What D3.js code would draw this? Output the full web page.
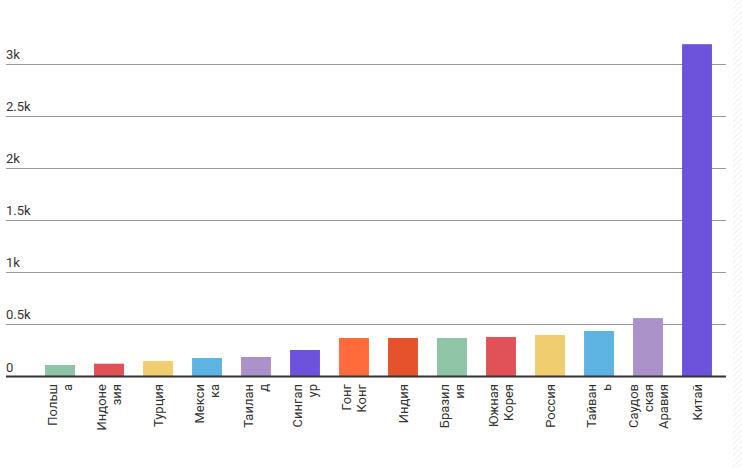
<!DOCTYPE html>
<html>
<head>
<meta charset="utf-8">
<script src="https://cdn.jsdelivr.net/npm/d3@7"></script>
<style>
  body { margin: 0; background: #fff; }
  svg { font-family: Roboto, "Noto Sans", sans-serif; }
</style>
</head>
<body>
<div id="chart"></div>
<script>
const categories = ["Польша", "Индонезия", "Турция", "Мексика", "Таиланд", "Сингапур", "Гонг Конг",
  "Индия", "Бразилия", "Южная Корея", "Россия", "Тайвань", "Саудовская Аравия", "Китай"];
const values = [110, 123, 148, 177, 187, 254, 369, 369, 369, 378, 398, 436, 560, 3185];
const colors = ["#8fc4a6", "#e05257", "#f0cd6e", "#5db4e3", "#aa92c8", "#6d52db", "#ff6b3a",
  "#e6522b", "#8fc4a6", "#e05257", "#f0cd6e", "#5db4e3", "#aa92c8", "#6d52db"];
// labels as wrapped in the original
const tickLines = [["Польш", "а"], ["Индоне", "зия"], ["Турция"], ["Мекси", "ка"], ["Таилан", "д"],
  ["Сингап", "ур"], ["Гонг", "Конг"], ["Индия"], ["Бразил", "ия"], ["Южная", "Корея"], ["Россия"],
  ["Тайван", "ь"], ["Саудов", "ская", "Аравия"], ["Китай"]];
const yTicks = [0, 500, 1000, 1500, 2000, 2500, 3000];
const yTickLabels = ["0", "0.5k", "1k", "1.5k", "2k", "2.5k", "3k"];

const width = 742, height = 468;
const left = 6, right = 726;

const svg = d3.select("#chart").append("svg")
  .attr("width", width)
  .attr("height", height);

// faint hatched strip on the right edge
const defs = svg.append("defs");
defs.append("pattern")
  .attr("id", "hatch")
  .attr("width", 4).attr("height", 4)
  .attr("patternUnits", "userSpaceOnUse")
  .attr("patternTransform", "rotate(45)")
  .append("line")
  .attr("x1", 0).attr("y1", 0).attr("x2", 0).attr("y2", 4)
  .attr("stroke", "#e4e4e4").attr("stroke-width", 1);
svg.append("rect")
  .attr("x", 733).attr("y", 0).attr("width", 9).attr("height", height)
  .attr("fill", "url(#hatch)");

const x = d3.scaleBand()
  .domain(categories)
  .range([35.5, 721.5])
  .paddingInner(0.39)
  .paddingOuter(0.195);

const y = d3.scaleLinear()
  .domain([0, 3000])
  .range([376.5, 63.5]);

// gridlines + labels
const grid = svg.append("g");
grid.selectAll("line")
  .data(yTicks.filter(d => d > 0))
  .enter().append("line")
  .attr("x1", left).attr("x2", right)
  .attr("y1", d => Math.round(y(d)) + 0.5)
  .attr("y2", d => Math.round(y(d)) + 0.5)
  .attr("stroke", "#9a9a9a")
  .attr("stroke-width", 1);

grid.selectAll("text")
  .data(yTicks)
  .enter().append("text")
  .attr("x", left)
  .attr("y", d => y(d) - 5)
  .attr("font-size", 13)
  .attr("fill", "#333")
  .text((d, i) => yTickLabels[i]);

// bars
svg.selectAll("rect.bar")
  .data(values)
  .enter().append("rect")
  .attr("class", "bar")
  .attr("x", (d, i) => x(categories[i]))
  .attr("width", x.bandwidth())
  .attr("y", d => y(d))
  .attr("height", d => y(0) - y(d))
  .attr("fill", (d, i) => colors[i]);

// baseline
svg.append("line")
  .attr("x1", left).attr("x2", right)
  .attr("y1", y(0)).attr("y2", y(0))
  .attr("stroke", "#333")
  .attr("stroke-width", 2);

// x labels, rotated
const lineGap = 15;
const xl = svg.append("g");
categories.forEach((c, i) => {
  const lines = tickLines[i];
  const cx = x(c) + x.bandwidth() / 2;
  lines.forEach((t, j) => {
    const lx = cx + (j - (lines.length - 1) / 2) * lineGap;
    xl.append("text")
      .attr("transform", `translate(${lx},${384}) rotate(-90)`)
      .attr("text-anchor", "end")
      .attr("dy", "0.35em")
      .attr("font-size", 13)
      .attr("fill", "#333")
      .text(t);
  });
});
</script>
</body>
</html>
